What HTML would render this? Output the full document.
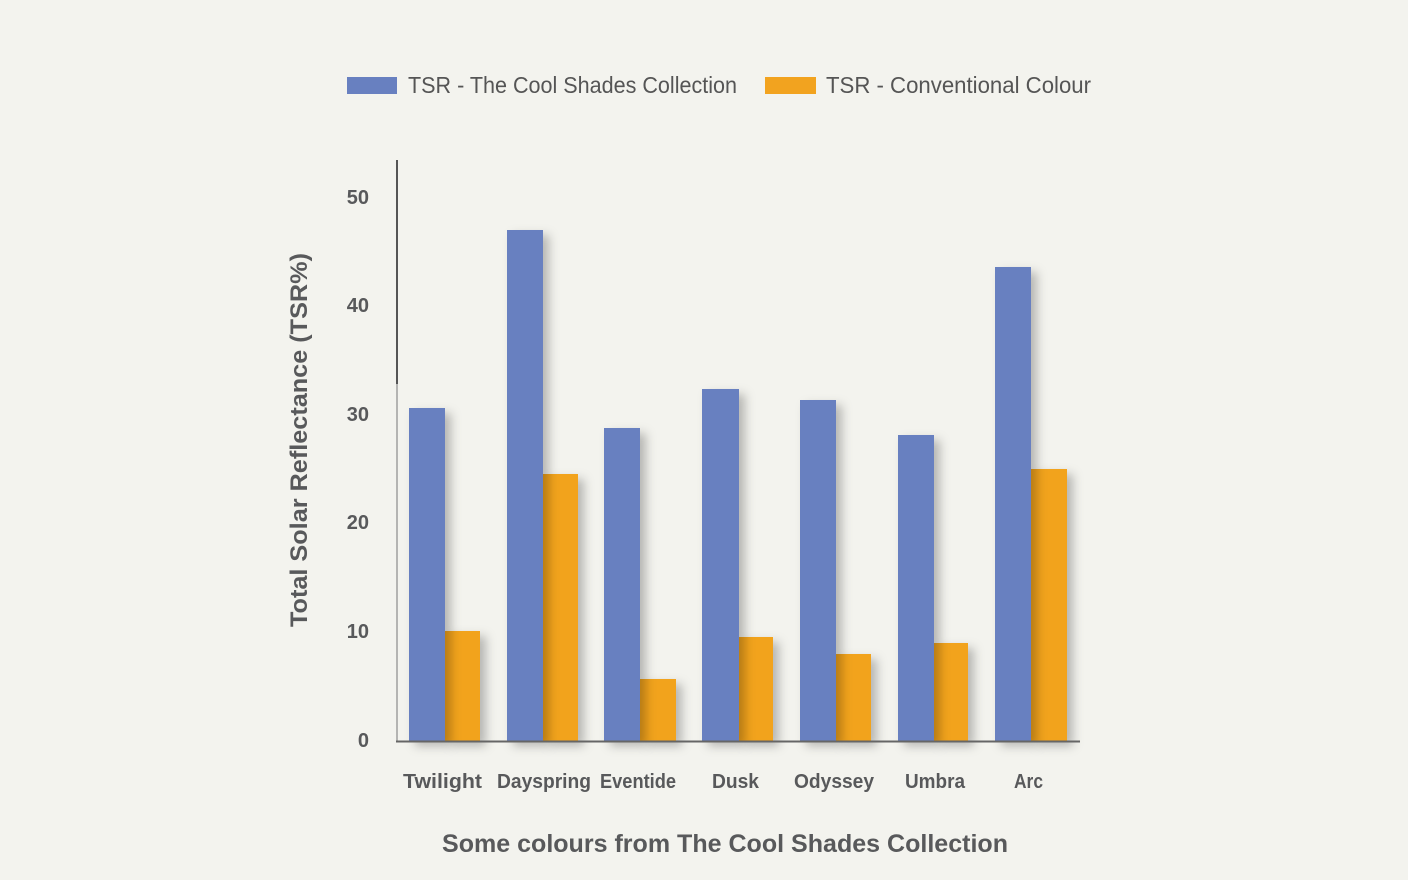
<!DOCTYPE html>
<html><head><meta charset="utf-8"><style>
html,body{margin:0;padding:0;background:#f3f3ee;}
svg{display:block;}
text{font-family:"Liberation Sans",Arial,sans-serif;}
</style></head><body>
<svg width="1408" height="880" viewBox="0 0 1408 880" xmlns="http://www.w3.org/2000/svg">
<defs>
<filter id="sh" x="-60%" y="-10%" width="220%" height="130%">
<feDropShadow dx="6" dy="5" stdDeviation="5" flood-color="#000" flood-opacity="0.25"/>
</filter>
</defs>
<rect width="1408" height="880" fill="#f3f3ee"/>
<!-- legend -->
<rect x="347" y="77" width="50" height="17" fill="#6880c0"/>
<text x="408" y="93" font-size="23" fill="#555" textLength="329" lengthAdjust="spacingAndGlyphs">TSR - The Cool Shades Collection</text>
<rect x="765" y="77" width="51" height="17" fill="#f2a31f"/>
<text x="826" y="93" font-size="23" fill="#555" textLength="265" lengthAdjust="spacingAndGlyphs">TSR - Conventional Colour</text>
<!-- axis -->
<line x1="397" y1="160" x2="397" y2="384" stroke="#555" stroke-width="2"/>
<line x1="397" y1="384" x2="397" y2="742" stroke="#8a8a8a" stroke-width="1.2"/>
<!-- y ticks -->
<g font-size="20" font-weight="bold" fill="#58595b" text-anchor="end">
<text x="369" y="204">50</text>
<text x="369" y="312">40</text>
<text x="369" y="421">30</text>
<text x="369" y="529">20</text>
<text x="369" y="638">10</text>
<text x="369" y="747">0</text>
</g>
<!-- orange bars -->
<g fill="#f2a31f" filter="url(#sh)">
<rect x="445" y="631" width="35" height="110"/>
<rect x="543" y="474" width="35" height="267"/>
<rect x="640" y="679" width="36" height="62"/>
<rect x="739" y="637" width="34" height="104"/>
<rect x="836" y="654" width="35" height="87"/>
<rect x="934" y="643" width="34" height="98"/>
<rect x="1031" y="469" width="36" height="272"/>
</g>
<!-- blue bars -->
<g fill="#6880c0" filter="url(#sh)">
<rect x="409" y="408" width="36" height="333"/>
<rect x="507" y="230" width="36" height="511"/>
<rect x="604" y="428" width="36" height="313"/>
<rect x="702" y="389" width="37" height="352"/>
<rect x="800" y="400" width="36" height="341"/>
<rect x="898" y="435" width="36" height="306"/>
<rect x="995" y="267" width="36" height="474"/>
</g>
<line x1="396" y1="741.5" x2="1080" y2="741.5" stroke="#666" stroke-width="2"/>
<!-- category labels -->
<g font-size="20" font-weight="bold" fill="#58595b">
<text x="403" y="788" textLength="79" lengthAdjust="spacingAndGlyphs">Twilight</text>
<text x="497" y="788" textLength="94" lengthAdjust="spacingAndGlyphs">Dayspring</text>
<text x="600" y="788" textLength="76" lengthAdjust="spacingAndGlyphs">Eventide</text>
<text x="712" y="788" textLength="47" lengthAdjust="spacingAndGlyphs">Dusk</text>
<text x="794" y="788" textLength="80" lengthAdjust="spacingAndGlyphs">Odyssey</text>
<text x="905" y="788" textLength="60" lengthAdjust="spacingAndGlyphs">Umbra</text>
<text x="1014" y="788" textLength="29" lengthAdjust="spacingAndGlyphs">Arc</text>
</g>
<!-- x title -->
<text x="442" y="852" font-size="25" font-weight="bold" fill="#58595b" textLength="566" lengthAdjust="spacingAndGlyphs">Some colours from The Cool Shades Collection</text>
<!-- y title -->
<text transform="translate(307,627) rotate(-90)" font-size="24" font-weight="bold" fill="#58595b" textLength="374" lengthAdjust="spacingAndGlyphs">Total Solar Reflectance (TSR%)</text>
</svg>
</body></html>
